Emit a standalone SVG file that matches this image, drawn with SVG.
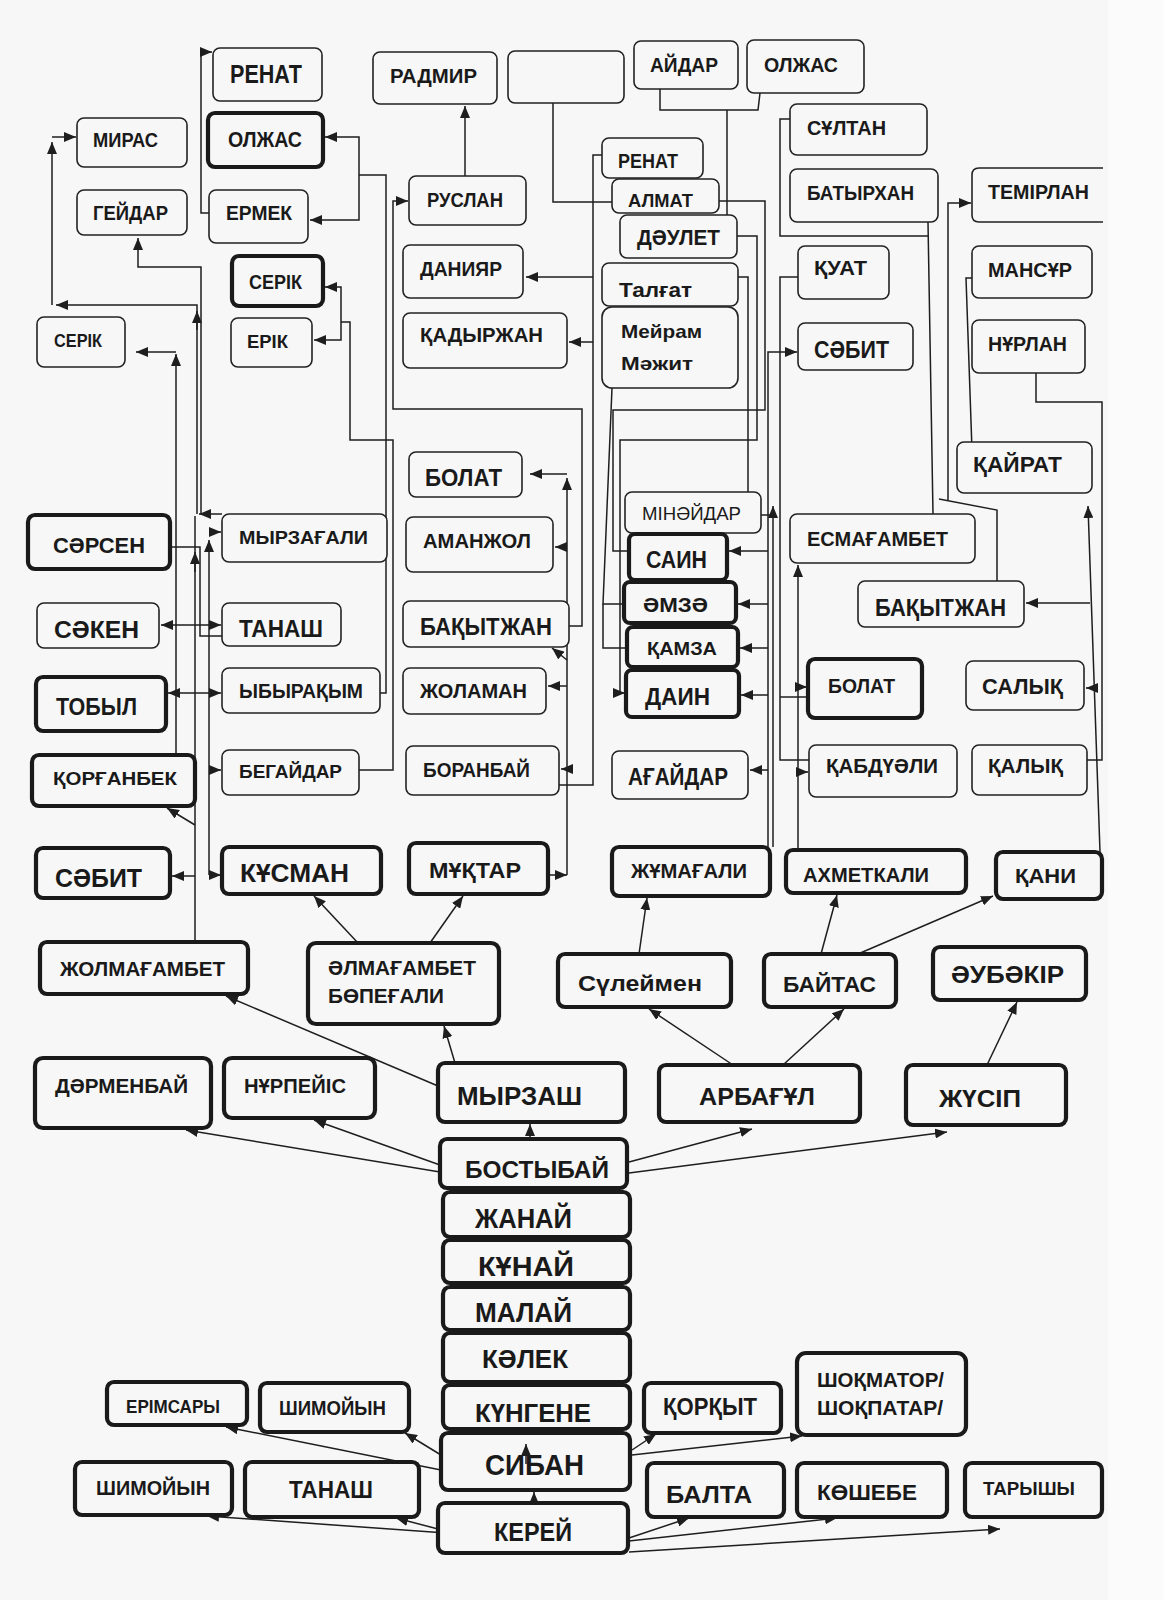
<svg xmlns="http://www.w3.org/2000/svg" width="1163" height="1600" viewBox="0 0 1163 1600">
<defs>
<marker id="a" viewBox="0 0 12 10" refX="12" refY="5" markerWidth="12" markerHeight="10" markerUnits="userSpaceOnUse" orient="auto"><path d="M0,0 L12,5 L0,10 z" fill="#1e1e1e"/></marker>
<style>
.c{fill:none;stroke:#1e1e1e;stroke-width:1.5}
.ar{marker-end:url(#a)}
.b{fill:#f7f7f7;stroke:#222;stroke-width:1.6}
.t{fill:#f7f7f7;stroke:#1a1a1a;stroke-width:4.2}
text{font-family:"Liberation Sans",Arial,sans-serif;font-weight:bold;fill:#1a1a1a}
.nw{font-weight:normal}
</style>
</defs>
<rect x="0" y="0" width="1163" height="1600" fill="#f7f7f7"/>
<rect x="1108" y="0" width="55" height="1600" fill="#fbfbfb"/>

<g id="connectors">
<!-- top-left -->
<path class="c ar" d="M209,213 H201 V52 H212"/>
<path class="c" d="M380,693 H386 V175 H359"/>
<path class="c ar" d="M359,175 V137 H325"/>
<path class="c ar" d="M359,175 V220 H310"/>
<path class="c ar" d="M197,514 V305 H56"/>
<path class="c ar" d="M52,305 V142"/>
<path class="c ar" d="M52,137 H76"/>
<path class="c ar" d="M197,330 V311"/>
<path class="c ar" d="M201,514 V267 H138 V238"/>
<path class="c ar" d="M176,755 V354"/>
<path class="c ar" d="M176,352 H136"/>
<path class="c" d="M359,770 H393 V440 H350 V322 H341"/>
<path class="c ar" d="M341,322 V287 H325"/>
<path class="c ar" d="M341,322 V340 H314"/>
<path class="c ar" d="M569,626 H582 V409 H393 V201 H408"/>
<path class="c ar" d="M465,176 V106"/>
<path class="c ar" d="M222,514 H199"/>
<!-- Жолмағамбет line -->
<path class="c" d="M195,942 V516"/>
<path class="c ar" d="M195,876 H172"/>
<path class="c ar" d="M195,825 L167,808"/>
<path class="c ar" d="M209,693 H168"/>
<path class="c ar" d="M209,625 H161"/>
<path class="c ar" d="M195,572 V552"/>
<!-- Құсман line -->
<path class="c ar" d="M209,875 V540"/>
<path class="c ar" d="M209,875 H221"/>
<path class="c ar" d="M209,532 H221"/>
<path class="c ar" d="M209,625 H221"/>
<path class="c ar" d="M209,693 H221"/>
<path class="c ar" d="M209,770 H221"/>
<path class="c" d="M170,547 H200 V636 H222"/>
<!-- Мұқтар line -->
<path class="c ar" d="M548,875 H567"/>
<path class="c ar" d="M567,875 V478"/>
<path class="c ar" d="M567,474 H530"/>
<path class="c ar" d="M567,547 H555"/>
<path class="c ar" d="M567,660 L552,648"/>
<path class="c ar" d="M567,686 H548"/>
<path class="c ar" d="M567,769 H561"/>
<!-- middle tangle -->
<path class="c" d="M553,103 V202 H612"/>
<path class="c" d="M660,89 V110 H758 L760,93"/>
<path class="c" d="M727,110 V215"/>
<path class="c" d="M602,155 H593 V785 H559"/>
<path class="c ar" d="M593,277 H526"/>
<path class="c ar" d="M593,342 H569"/>
<path class="c" d="M719,201 H765 V410 H613 V551 H629"/>
<path class="c ar" d="M737,236 H757 V440 H620 V693 H625"/>
<path class="c" d="M738,277 H748 V492"/>
<path class="c" d="M612,388 L603,604 H624"/>
<path class="c" d="M603,604 V648 H627"/>
<!-- Жұмағали line -->
<path class="c ar" d="M768,847 V352 H797"/>
<path class="c ar" d="M768,551 H729"/>
<path class="c ar" d="M768,604 H738"/>
<path class="c ar" d="M768,648 H740"/>
<path class="c ar" d="M768,695 H741"/>
<path class="c ar" d="M768,770 H750"/>
<path class="c ar" d="M773,847 V506"/>
<path class="c" d="M761,515 H773"/>
<!-- Ахметкали line -->
<path class="c ar" d="M798,850 V565"/>
<path class="c ar" d="M798,687 H807"/>
<path class="c ar" d="M798,772 H808"/>
<path class="c" d="M798,277 H780 V760 H809"/>
<path class="c" d="M780,697 H808"/>
<path class="c" d="M790,119 H780 V236 H928"/>
<path class="c" d="M928,222 L933,514"/>
<path class="c" d="M997,581 V510 L939,499"/>
<path class="c ar" d="M948,500 V203 H971"/>
<path class="c" d="M972,278 H966 L972,450"/>
<path class="c" d="M1036,373 V402 H1102 V760 H1087"/>
<path class="c ar" d="M1100,852 L1088,506"/>
<path class="c ar" d="M1093,688 H1086"/>
<path class="c ar" d="M1090,603 H1026"/>
<!-- lower tree -->
<path class="c ar" d="M358,943 L314,896"/>
<path class="c ar" d="M430,943 L463,896"/>
<path class="c ar" d="M455,1063 L444,1026"/>
<path class="c ar" d="M438,1086 L226,996"/>
<path class="c ar" d="M639,954 L647,898"/>
<path class="c ar" d="M821,954 L837,895"/>
<path class="c ar" d="M858,954 L993,896"/>
<path class="c ar" d="M733,1065 L649,1009"/>
<path class="c ar" d="M783,1065 L844,1009"/>
<path class="c ar" d="M987,1065 L1017,1002"/>
<path class="c ar" d="M530,1139 V1124"/>
<path class="c ar" d="M440,1172 L186,1130"/>
<path class="c ar" d="M440,1165 L314,1120"/>
<path class="c ar" d="M629,1162 L752,1129"/>
<path class="c ar" d="M629,1173 L947,1132"/>
<path class="c ar" d="M441,1470 L226,1427"/>
<path class="c ar" d="M441,1455 L405,1433"/>
<path class="c ar" d="M632,1450 L656,1434"/>
<path class="c ar" d="M632,1455 L802,1436"/>
<path class="c ar" d="M446,1533 L207,1516"/>
<path class="c ar" d="M438,1529 L396,1518"/>
<path class="c ar" d="M534,1503 V1492"/>
<path class="c ar" d="M629,1538 L689,1518"/>
<path class="c ar" d="M629,1541 L837,1518"/>
<path class="c ar" d="M629,1552 L1000,1529"/>
</g>

<g id="n_renat1"><rect class="b" x="213" y="48" width="109" height="53" rx="7"/><text x="230" y="83" font-size="25" textLength="72" lengthAdjust="spacingAndGlyphs">РЕНАТ</text></g>
<g id="n_olzhas1"><rect class="t" x="208" y="113" width="115" height="54" rx="7"/><text x="228" y="147" font-size="22" textLength="74" lengthAdjust="spacingAndGlyphs">ОЛЖАС</text></g>
<g id="n_miras"><rect class="b" x="77" y="118" width="110" height="49" rx="7"/><text x="93" y="147" font-size="19.5" textLength="65" lengthAdjust="spacingAndGlyphs">МИРАС</text></g>
<g id="n_geidar"><rect class="b" x="77" y="190" width="110" height="45" rx="7"/><text x="93" y="220" font-size="19.5" textLength="75" lengthAdjust="spacingAndGlyphs">ГЕЙДАР</text></g>
<g id="n_ermek"><rect class="b" x="209" y="190" width="99" height="53" rx="7"/><text x="226" y="220" font-size="19.5" textLength="66" lengthAdjust="spacingAndGlyphs">ЕРМЕК</text></g>
<g id="n_serik1"><rect class="t" x="232" y="256" width="91" height="50" rx="7"/><text x="249" y="289" font-size="20" textLength="53" lengthAdjust="spacingAndGlyphs">СЕРІК</text></g>
<g id="n_serik2"><rect class="b" x="37" y="317" width="88" height="50" rx="7"/><text x="54" y="347" font-size="18.5" textLength="48" lengthAdjust="spacingAndGlyphs">СЕРІК</text></g>
<g id="n_erik"><rect class="b" x="231" y="318" width="81" height="49" rx="7"/><text x="247" y="348" font-size="18.5" textLength="41" lengthAdjust="spacingAndGlyphs">ЕРІК</text></g>

<g id="n_radmir"><rect class="b" x="373" y="52" width="124" height="52" rx="7"/><text x="390" y="83" font-size="20" textLength="87" lengthAdjust="spacingAndGlyphs">РАДМИР</text></g>
<g id="n_empty"><rect class="b" x="508" y="51" width="116" height="52" rx="7"/></g>
<g id="n_aidar"><rect class="b" x="634" y="41" width="104" height="48" rx="7"/><text x="650" y="72" font-size="20" textLength="68" lengthAdjust="spacingAndGlyphs">АЙДАР</text></g>
<g id="n_olzhas2"><rect class="b" x="747" y="40" width="117" height="53" rx="7"/><text x="764" y="72" font-size="20" textLength="74" lengthAdjust="spacingAndGlyphs">ОЛЖАС</text></g>
<g id="n_ruslan"><rect class="b" x="409" y="176" width="117" height="49" rx="7"/><text x="427" y="207" font-size="20" textLength="76" lengthAdjust="spacingAndGlyphs">РУСЛАН</text></g>
<g id="n_daniyar"><rect class="b" x="403" y="245" width="120" height="53" rx="7"/><text x="420" y="276" font-size="20" textLength="82" lengthAdjust="spacingAndGlyphs">ДАНИЯР</text></g>
<g id="n_kadyrzhan"><rect class="b" x="403" y="313" width="164" height="55" rx="7"/><text x="420" y="342" font-size="21" textLength="123" lengthAdjust="spacingAndGlyphs">ҚАДЫРЖАН</text></g>
<g id="n_renat2"><rect class="b" x="602" y="138" width="101" height="40" rx="7"/><text x="618" y="168" font-size="20" textLength="60" lengthAdjust="spacingAndGlyphs">РЕНАТ</text></g>
<g id="n_almat"><rect class="b" x="612" y="179" width="107" height="34" rx="7"/><text x="628" y="207" font-size="18" textLength="65" lengthAdjust="spacingAndGlyphs">АЛМАТ</text></g>
<g id="n_daulet"><rect class="b" x="620" y="215" width="117" height="43" rx="7"/><text x="637" y="245" font-size="22" textLength="83" lengthAdjust="spacingAndGlyphs">ДӘУЛЕТ</text></g>
<g id="n_talgat"><rect class="b" x="602" y="263" width="136" height="43" rx="7"/><text x="619" y="297" font-size="21" textLength="73" lengthAdjust="spacingAndGlyphs">Талғат</text></g>
<g id="n_meiram"><rect class="b" x="602" y="307" width="136" height="81" rx="10"/><text x="621" y="338" font-size="19" textLength="81" lengthAdjust="spacingAndGlyphs">Мейрам</text><text x="621" y="370" font-size="19" textLength="72" lengthAdjust="spacingAndGlyphs">Мәжит</text></g>

<g id="n_sultan"><rect class="b" x="790" y="104" width="137" height="51" rx="7"/><text x="807" y="135" font-size="20" textLength="79" lengthAdjust="spacingAndGlyphs">СҰЛТАН</text></g>
<g id="n_batyrkhan"><rect class="b" x="790" y="169" width="148" height="53" rx="7"/><text x="807" y="200" font-size="20" textLength="107" lengthAdjust="spacingAndGlyphs">БАТЫРХАН</text></g>
<g id="n_temirlan"><path class="b" d="M1103,168 H979 Q972,168 972,175 V215 Q972,222 979,222 H1103"/><text x="988" y="199" font-size="20" textLength="101" lengthAdjust="spacingAndGlyphs">ТЕМІРЛАН</text></g>
<g id="n_kuat"><rect class="b" x="798" y="246" width="91" height="53" rx="7"/><text x="814" y="275" font-size="21" textLength="53" lengthAdjust="spacingAndGlyphs">ҚУАТ</text></g>
<g id="n_mansur"><rect class="b" x="972" y="246" width="120" height="52" rx="7"/><text x="988" y="277" font-size="20.5" textLength="84" lengthAdjust="spacingAndGlyphs">МАНСҰР</text></g>
<g id="n_sabit2"><rect class="b" x="798" y="323" width="115" height="47" rx="7"/><text x="814" y="358" font-size="24.5" textLength="75" lengthAdjust="spacingAndGlyphs">СӘБИТ</text></g>
<g id="n_nurlan"><rect class="b" x="972" y="320" width="113" height="53" rx="7"/><text x="988" y="351" font-size="20.5" textLength="79" lengthAdjust="spacingAndGlyphs">НҰРЛАН</text></g>
<g id="n_kairat"><rect class="b" x="957" y="442" width="135" height="51" rx="7"/><text x="973" y="472" font-size="22" textLength="89" lengthAdjust="spacingAndGlyphs">ҚАЙРАТ</text></g>

<g id="n_sarsen"><rect class="t" x="28" y="515" width="142" height="54" rx="7"/><text x="53" y="553" font-size="22" textLength="92" lengthAdjust="spacingAndGlyphs">СӘРСЕН</text></g>
<g id="n_myrzagali"><rect class="b" x="222" y="514" width="165" height="48" rx="7"/><text x="239" y="544" font-size="17.5" textLength="129" lengthAdjust="spacingAndGlyphs">МЫРЗАҒАЛИ</text></g>
<g id="n_saken"><rect class="b" x="37" y="603" width="122" height="45" rx="7"/><text x="54" y="638" font-size="24" textLength="85" lengthAdjust="spacingAndGlyphs">СӘКЕН</text></g>
<g id="n_tanash1"><rect class="b" x="222" y="603" width="119" height="43" rx="7"/><text x="239" y="637" font-size="23" textLength="84" lengthAdjust="spacingAndGlyphs">ТАНАШ</text></g>
<g id="n_tobyl"><rect class="t" x="36" y="677" width="130" height="54" rx="7"/><text x="56" y="715" font-size="23" textLength="81" lengthAdjust="spacingAndGlyphs">ТОБЫЛ</text></g>
<g id="n_ybyrakym"><rect class="b" x="222" y="668" width="158" height="45" rx="7"/><text x="239" y="698" font-size="20" textLength="124" lengthAdjust="spacingAndGlyphs">ЫБЫРАҚЫМ</text></g>
<g id="n_korganbek"><rect class="t" x="32" y="755" width="163" height="51" rx="7"/><text x="53" y="785" font-size="19" textLength="124" lengthAdjust="spacingAndGlyphs">ҚОРҒАНБЕК</text></g>
<g id="n_begaidar"><rect class="b" x="222" y="750" width="137" height="45" rx="7"/><text x="239" y="778" font-size="19" textLength="103" lengthAdjust="spacingAndGlyphs">БЕГАЙДАР</text></g>

<g id="n_bolat1"><rect class="b" x="409" y="452" width="113" height="45" rx="7"/><text x="425" y="486" font-size="23" textLength="77" lengthAdjust="spacingAndGlyphs">БОЛАТ</text></g>
<g id="n_amanzhol"><rect class="b" x="406" y="517" width="147" height="55" rx="7"/><text x="423" y="548" font-size="20" textLength="108" lengthAdjust="spacingAndGlyphs">АМАНЖОЛ</text></g>
<g id="n_bakytzhan1"><rect class="b" x="403" y="601" width="166" height="46" rx="7"/><text x="420" y="635" font-size="23" textLength="132" lengthAdjust="spacingAndGlyphs">БАҚЫТЖАН</text></g>
<g id="n_zholaman"><rect class="b" x="403" y="668" width="143" height="46" rx="7"/><text x="420" y="698" font-size="21" textLength="107" lengthAdjust="spacingAndGlyphs">ЖОЛАМАН</text></g>
<g id="n_boranbai"><rect class="b" x="406" y="746" width="153" height="49" rx="7"/><text x="423" y="777" font-size="21" textLength="107" lengthAdjust="spacingAndGlyphs">БОРАНБАЙ</text></g>
<g id="n_minaidar"><rect class="b" x="625" y="492" width="136" height="41" rx="7"/><text class="nw" x="642" y="520" font-size="19" textLength="99" lengthAdjust="spacingAndGlyphs">МІНӘЙДАР</text></g>
<g id="n_sain"><rect class="t" x="629" y="534" width="98" height="46" rx="6"/><text x="646" y="568" font-size="23" textLength="61" lengthAdjust="spacingAndGlyphs">САИН</text></g>
<g id="n_amza"><rect class="t" x="624" y="582" width="112" height="41" rx="6"/><text x="643" y="612" font-size="21" textLength="65" lengthAdjust="spacingAndGlyphs">ӘМЗӘ</text></g>
<g id="n_kamza"><rect class="t" x="627" y="627" width="111" height="40" rx="6"/><text x="647" y="655" font-size="19" textLength="70" lengthAdjust="spacingAndGlyphs">ҚАМЗА</text></g>
<g id="n_dain"><rect class="t" x="626" y="670" width="113" height="47" rx="6"/><text x="645" y="705" font-size="24" textLength="65" lengthAdjust="spacingAndGlyphs">ДАИН</text></g>
<g id="n_agaidar"><rect class="b" x="612" y="751" width="136" height="48" rx="7"/><text x="628" y="785" font-size="23" textLength="100" lengthAdjust="spacingAndGlyphs">АҒАЙДАР</text></g>

<g id="n_esmagambet"><rect class="b" x="790" y="514" width="185" height="49" rx="7"/><text x="807" y="546" font-size="20" textLength="141" lengthAdjust="spacingAndGlyphs">ЕСМАҒАМБЕТ</text></g>
<g id="n_bakytzhan2"><rect class="b" x="858" y="581" width="166" height="46" rx="7"/><text x="875" y="616" font-size="24" textLength="131" lengthAdjust="spacingAndGlyphs">БАҚЫТЖАН</text></g>
<g id="n_bolat2"><rect class="t" x="808" y="659" width="114" height="59" rx="7"/><text x="828" y="693" font-size="20" textLength="67" lengthAdjust="spacingAndGlyphs">БОЛАТ</text></g>
<g id="n_salyk"><rect class="b" x="966" y="661" width="118" height="49" rx="7"/><text x="982" y="694" font-size="22" textLength="81" lengthAdjust="spacingAndGlyphs">САЛЫҚ</text></g>
<g id="n_kabduali"><rect class="b" x="809" y="745" width="148" height="52" rx="7"/><text x="826" y="773" font-size="21" textLength="112" lengthAdjust="spacingAndGlyphs">ҚАБДҮӘЛИ</text></g>
<g id="n_kalyk"><rect class="b" x="972" y="745" width="115" height="50" rx="7"/><text x="988" y="773" font-size="21" textLength="75" lengthAdjust="spacingAndGlyphs">ҚАЛЫҚ</text></g>

<g id="n_sabit1"><rect class="t" x="36" y="848" width="134" height="50" rx="7"/><text x="55" y="887" font-size="26" textLength="87" lengthAdjust="spacingAndGlyphs">СӘБИТ</text></g>
<g id="n_kusman"><rect class="t" x="222" y="847" width="159" height="47" rx="7"/><text x="240" y="882" font-size="25" textLength="109" lengthAdjust="spacingAndGlyphs">КҰСМАН</text></g>
<g id="n_muktar"><rect class="t" x="409" y="843" width="139" height="51" rx="7"/><text x="429" y="878" font-size="22" textLength="92" lengthAdjust="spacingAndGlyphs">МҰҚТАР</text></g>
<g id="n_zhumagali"><rect class="t" x="612" y="847" width="158" height="49" rx="7"/><text x="631" y="878" font-size="20" textLength="116" lengthAdjust="spacingAndGlyphs">ЖҰМАҒАЛИ</text></g>
<g id="n_akhmetkali"><rect class="t" x="786" y="850" width="180" height="43" rx="7"/><text x="803" y="882" font-size="21" textLength="126" lengthAdjust="spacingAndGlyphs">АХМЕТКАЛИ</text></g>
<g id="n_kani"><rect class="t" x="996" y="852" width="106" height="47" rx="7"/><text x="1015" y="883" font-size="21" textLength="61" lengthAdjust="spacingAndGlyphs">ҚАНИ</text></g>

<g id="n_zholmagambet"><rect class="t" x="40" y="942" width="208" height="52" rx="7"/><text x="60" y="976" font-size="20" textLength="165" lengthAdjust="spacingAndGlyphs">ЖОЛМАҒАМБЕТ</text></g>
<g id="n_almagambet"><rect class="t" x="308" y="943" width="191" height="81" rx="8"/><text x="328" y="975" font-size="21" textLength="148" lengthAdjust="spacingAndGlyphs">ӘЛМАҒАМБЕТ</text><text x="328" y="1003" font-size="20" textLength="116" lengthAdjust="spacingAndGlyphs">БӨПЕҒАЛИ</text></g>
<g id="n_suleimen"><rect class="t" x="558" y="954" width="173" height="53" rx="7"/><text x="578" y="991" font-size="22" textLength="124" lengthAdjust="spacingAndGlyphs">Сүлеймен</text></g>
<g id="n_baitas"><rect class="t" x="764" y="954" width="132" height="53" rx="7"/><text x="783" y="992" font-size="22" textLength="93" lengthAdjust="spacingAndGlyphs">БАЙТАС</text></g>
<g id="n_aubakir"><rect class="t" x="933" y="947" width="153" height="53" rx="7"/><text x="951" y="983" font-size="23" textLength="113" lengthAdjust="spacingAndGlyphs">ӘУБӘКІР</text></g>

<g id="n_darmenbai"><rect class="t" x="35" y="1058" width="176" height="70" rx="8"/><text x="55" y="1093" font-size="21" textLength="133" lengthAdjust="spacingAndGlyphs">ДӘРМЕНБАЙ</text></g>
<g id="n_nurpeis"><rect class="t" x="224" y="1058" width="151" height="60" rx="8"/><text x="244" y="1093" font-size="20" textLength="102" lengthAdjust="spacingAndGlyphs">НҰРПЕЙІС</text></g>
<g id="n_myrzash"><rect class="t" x="438" y="1063" width="187" height="59" rx="7"/><text x="457" y="1105" font-size="25.5" textLength="125" lengthAdjust="spacingAndGlyphs">МЫРЗАШ</text></g>
<g id="n_arbagul"><rect class="t" x="659" y="1065" width="201" height="57" rx="7"/><text x="699" y="1105" font-size="24.5" textLength="116" lengthAdjust="spacingAndGlyphs">АРБАҒҰЛ</text></g>
<g id="n_zhusip"><rect class="t" x="906" y="1065" width="160" height="60" rx="7"/><text x="939" y="1107" font-size="24" textLength="82" lengthAdjust="spacingAndGlyphs">ЖҮСІП</text></g>

<g id="n_bostybai"><rect class="t" x="440" y="1139" width="187" height="49" rx="7"/><text x="465" y="1178" font-size="23" textLength="144" lengthAdjust="spacingAndGlyphs">БОСТЫБАЙ</text></g>
<g id="n_zhanai"><rect class="t" x="443" y="1192" width="187" height="45" rx="7"/><text x="475" y="1228" font-size="28" textLength="97" lengthAdjust="spacingAndGlyphs">ЖАНАЙ</text></g>
<g id="n_kunai"><rect class="t" x="443" y="1240" width="187" height="43" rx="7"/><text x="478" y="1276" font-size="28" textLength="96" lengthAdjust="spacingAndGlyphs">КҰНАЙ</text></g>
<g id="n_malai"><rect class="t" x="443" y="1287" width="187" height="43" rx="7"/><text x="475" y="1322" font-size="27" textLength="97" lengthAdjust="spacingAndGlyphs">МАЛАЙ</text></g>
<g id="n_kalek"><rect class="t" x="443" y="1333" width="187" height="49" rx="7"/><text x="482" y="1368" font-size="26" textLength="86" lengthAdjust="spacingAndGlyphs">КӘЛЕК</text></g>
<g id="n_kungene"><rect class="t" x="443" y="1385" width="187" height="44" rx="7"/><text x="475" y="1422" font-size="26" textLength="116" lengthAdjust="spacingAndGlyphs">КҮНГЕНЕ</text></g>
<g id="n_siban"><rect class="t" x="441" y="1433" width="189" height="57" rx="7"/><text x="485" y="1475" font-size="29" textLength="99" lengthAdjust="spacingAndGlyphs">СИБАН</text><path class="c ar" d="M526,1464 V1444"/></g>
<g id="n_kerei"><rect class="t" x="438" y="1503" width="190" height="50" rx="7"/><text x="494" y="1541" font-size="25" textLength="78" lengthAdjust="spacingAndGlyphs">КЕРЕЙ</text></g>

<g id="n_erimsary"><rect class="t" x="107" y="1382" width="140" height="43" rx="7"/><text x="126" y="1413" font-size="18.5" textLength="94" lengthAdjust="spacingAndGlyphs">ЕРІМСАРЫ</text></g>
<g id="n_shimoiyn1"><rect class="t" x="260" y="1383" width="149" height="49" rx="7"/><text x="279" y="1415" font-size="19.5" textLength="107" lengthAdjust="spacingAndGlyphs">ШИМОЙЫН</text></g>
<g id="n_shimoiyn2"><rect class="t" x="75" y="1462" width="157" height="53" rx="7"/><text x="96" y="1495" font-size="20" textLength="114" lengthAdjust="spacingAndGlyphs">ШИМОЙЫН</text></g>
<g id="n_tanash2"><rect class="t" x="245" y="1462" width="174" height="55" rx="7"/><text x="289" y="1498" font-size="23" textLength="84" lengthAdjust="spacingAndGlyphs">ТАНАШ</text></g>
<g id="n_korkyt"><rect class="t" x="644" y="1383" width="137" height="50" rx="7"/><text x="663" y="1415" font-size="23" textLength="94" lengthAdjust="spacingAndGlyphs">ҚОРҚЫТ</text></g>
<g id="n_shokmator"><rect class="t" x="797" y="1353" width="169" height="82" rx="9"/><text x="817" y="1387" font-size="21" textLength="127" lengthAdjust="spacingAndGlyphs">ШОҚМАТОР/</text><text x="817" y="1415" font-size="21" textLength="126" lengthAdjust="spacingAndGlyphs">ШОҚПАТАР/</text></g>
<g id="n_balta"><rect class="t" x="647" y="1463" width="137" height="54" rx="7"/><text x="666" y="1503" font-size="24.5" textLength="86" lengthAdjust="spacingAndGlyphs">БАЛТА</text></g>
<g id="n_koshebe"><rect class="t" x="797" y="1463" width="150" height="54" rx="7"/><text x="817" y="1500" font-size="22" textLength="100" lengthAdjust="spacingAndGlyphs">КӨШЕБЕ</text></g>
<g id="n_taryshy"><rect class="t" x="965" y="1463" width="137" height="54" rx="7"/><text x="983" y="1495" font-size="17.5" textLength="92" lengthAdjust="spacingAndGlyphs">ТАРЫШЫ</text></g>
</svg>
